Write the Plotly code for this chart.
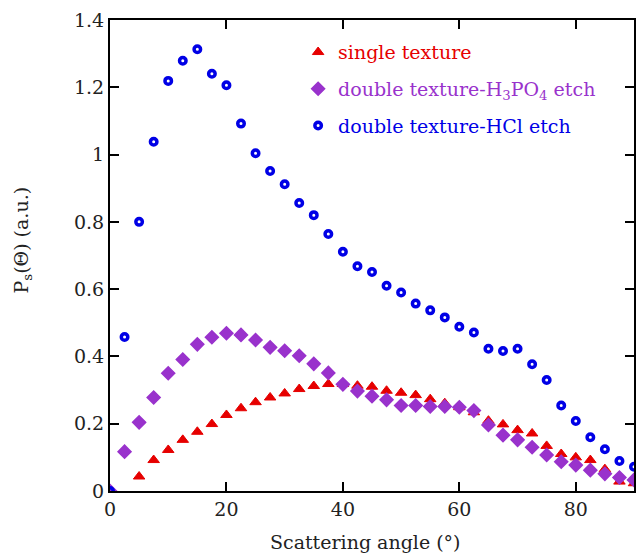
import plotly.graph_objects as go

# Scattering angle (degrees), sampled every 2.5°
angle = [0, 2.5, 5, 7.5, 10, 12.5, 15, 17.5, 20, 22.5, 25, 27.5, 30, 32.5, 35, 37.5,
         40, 42.5, 45, 47.5, 50, 52.5, 55, 57.5, 60, 62.5, 65, 67.5, 70, 72.5, 75,
         77.5, 80, 82.5, 85, 87.5, 90]

single_texture = [0.0, None, 0.043, 0.092, 0.122, 0.152, 0.176, 0.199, 0.226, 0.246,
                  0.264, 0.278, 0.290, 0.303, 0.312, 0.318, 0.318, 0.313, 0.310, 0.298,
                  0.292, 0.285, 0.273, 0.261, 0.249, 0.234, 0.209, 0.198, 0.181, 0.171,
                  0.134, 0.110, 0.100, 0.092, 0.065, 0.028, 0.023]

double_h3po4 = [0.0, 0.117, 0.204, 0.278, 0.350, 0.391, 0.436, 0.457, 0.469, 0.464,
                0.449, 0.427, 0.417, 0.402, 0.378, 0.351, 0.317, 0.297, 0.282, 0.271,
                0.254, 0.254, 0.251, 0.251, 0.249, 0.239, 0.196, 0.166, 0.152, 0.130,
                0.107, 0.087, 0.077, 0.062, 0.051, 0.040, 0.033]

double_hcl = [0.0, 0.458, 0.800, 1.038, 1.219, 1.279, 1.313, 1.240, 1.206, 1.092,
              1.004, 0.951, 0.912, 0.856, 0.820, 0.764, 0.711, 0.668, 0.651, 0.610,
              0.590, 0.557, 0.537, 0.516, 0.488, 0.471, 0.423, 0.416, 0.423, 0.377,
              0.330, 0.254, 0.208, 0.160, 0.124, 0.089, 0.072]

x_ticks = [0, 20, 40, 60, 80]
y_ticks = [0, 0.2, 0.4, 0.6, 0.8, 1, 1.2, 1.4]

RED = "#E60000"
PURPLE = "#9932CC"
BLUE = "#0000E6"
FONT = "DejaVu Serif"

fig = go.Figure()

fig.add_trace(go.Scatter(
    x=angle, y=single_texture, mode="markers", legendgroup="a",
    name=f"<span style='color:{RED}'>single texture</span>",
    marker=dict(symbol="triangle-up", size=10, color=RED,
                line=dict(color=RED, width=1)),
))
fig.add_trace(go.Scatter(
    x=angle, y=double_h3po4, mode="markers", legendgroup="b",
    name=f"<span style='color:{PURPLE}'>double texture-H<sub>3</sub>PO<sub>4</sub> etch</span>",
    marker=dict(symbol="diamond", size=10, color=PURPLE,
                line=dict(color=PURPLE, width=1.5)),
))
fig.add_trace(go.Scatter(
    x=angle, y=double_hcl, mode="markers", legendgroup="c",
    name=f"<span style='color:{BLUE}'>double texture-HCl etch</span>",
    marker=dict(symbol="circle-open", size=6.5, color=BLUE,
                line=dict(color=BLUE, width=3.5)),
))

axis_common = dict(
    showgrid=False, zeroline=False,
    showline=True, linecolor="black", linewidth=2, mirror="allticks",
    ticks="inside", ticklen=9, tickwidth=2, tickcolor="black",
    tickfont=dict(family=FONT, size=19, color="#222222"),
)

fig.update_xaxes(range=[0, 90], tickvals=x_ticks, **axis_common)
fig.update_yaxes(range=[0, 1.4], tickvals=y_ticks, **axis_common)

fig.add_annotation(
    text="Scattering angle (°)", xref="paper", yref="paper",
    x=0.487, y=-0.108, xanchor="center", yanchor="middle", showarrow=False,
    font=dict(family=FONT, size=19, color="#222222"),
)
fig.add_annotation(
    text="P<sub>s</sub>(Θ) (a.u.)", xref="paper", yref="paper",
    x=-0.167, y=0.533, xanchor="center", yanchor="middle", showarrow=False,
    textangle=-90, font=dict(family=FONT, size=19, color="#222222"),
)

fig.update_layout(
    width=640, height=560,
    margin=dict(l=110, r=4, t=20, b=69),
    paper_bgcolor="white", plot_bgcolor="white",
    showlegend=True,
    legend=dict(x=0.359, y=0.972, xanchor="left", yanchor="top",
                bgcolor="rgba(0,0,0,0)", borderwidth=0, tracegroupgap=9,
                font=dict(family=FONT, size=19)),
)

fig.write_html("out.html")
